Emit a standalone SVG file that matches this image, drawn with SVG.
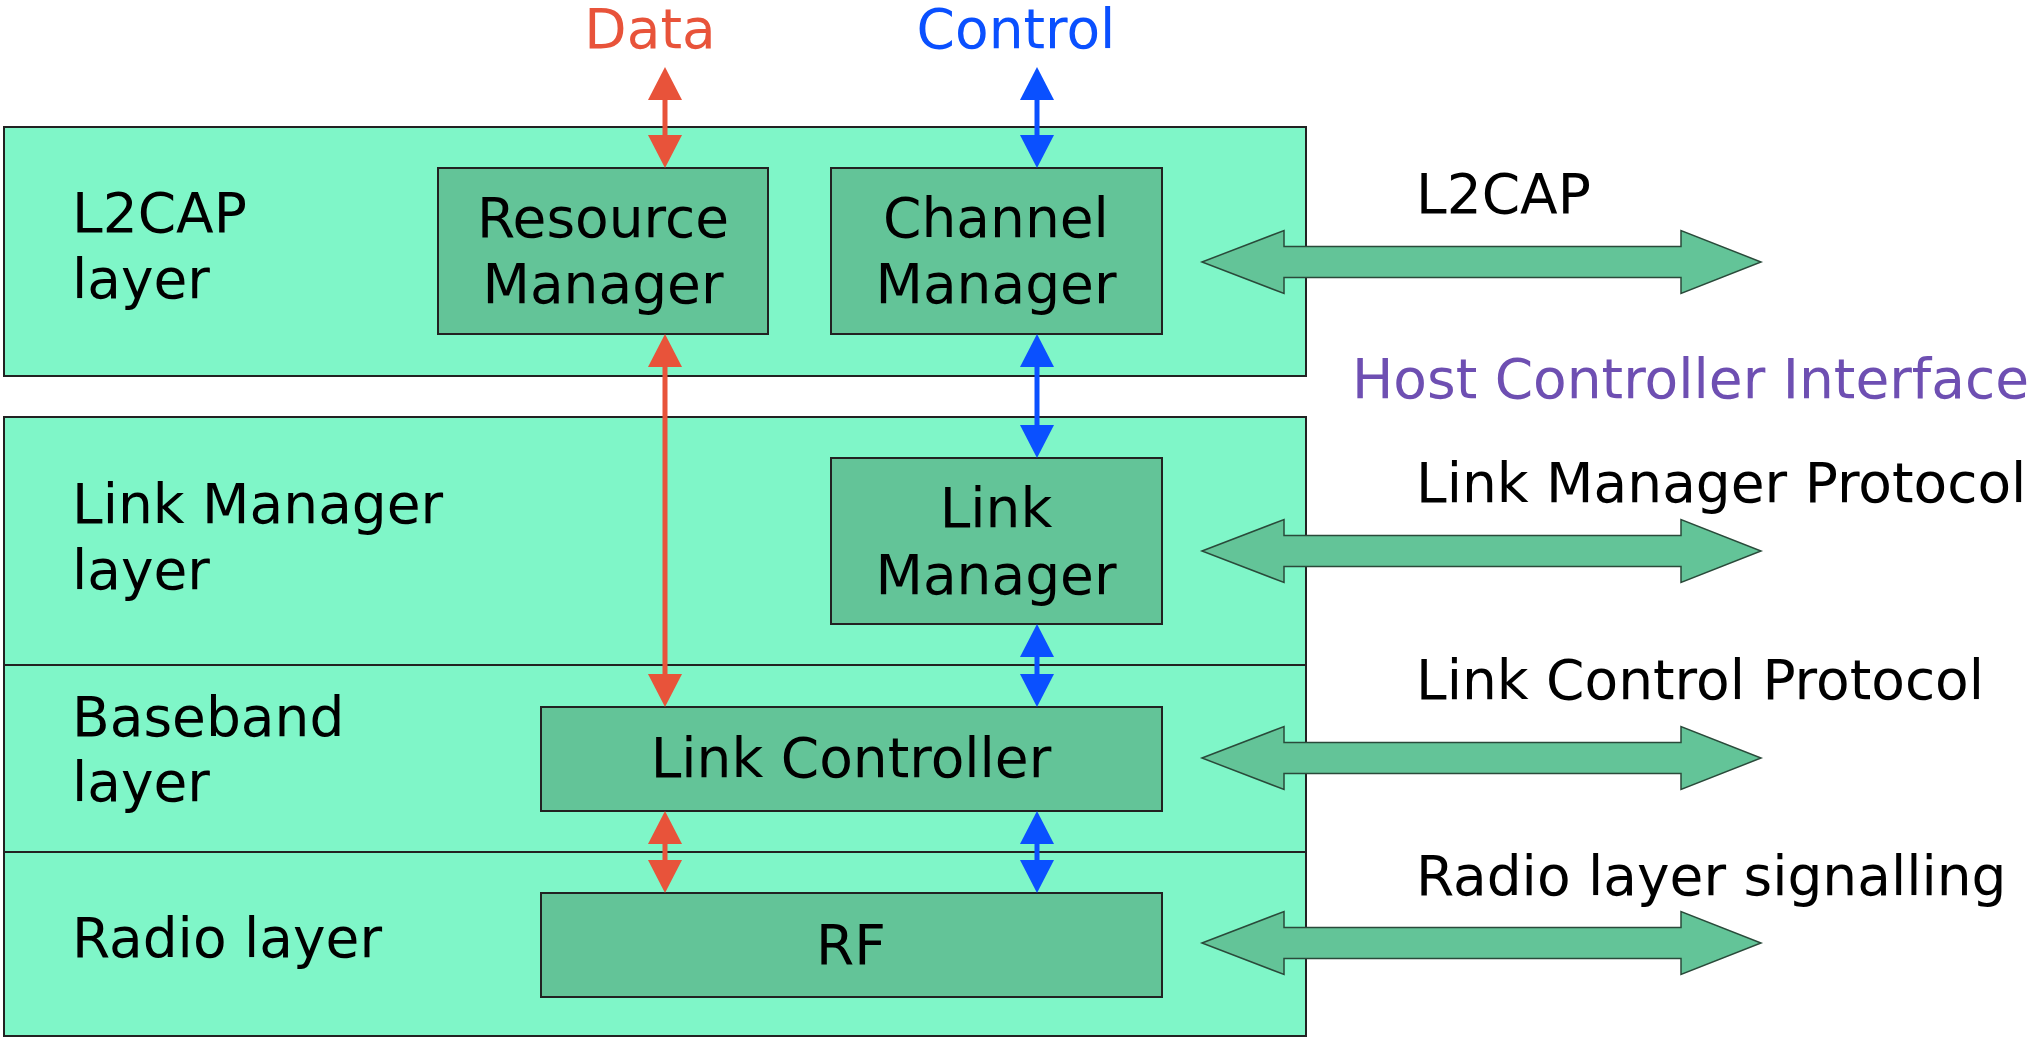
<svg xmlns="http://www.w3.org/2000/svg" width="2039" height="1039" viewBox="0 0 2039 1039">
<style>
.layer{fill:#7FF6C8;stroke:#222;stroke-width:2}
.box{fill:#63C498;stroke:#222;stroke-width:2}
.big{fill:#63C498;stroke:#2a4a3a;stroke-width:1.5}
text{font-family:"DejaVu Sans","Verdana",sans-serif;font-size:55px;fill:#000}
.c{text-anchor:middle}
.red{stroke:#E8533A;stroke-width:5;fill:none}
.blue{stroke:#0A50FF;stroke-width:5;fill:none}
</style>
<defs>
<marker id="hr" viewBox="0 0 33 34" refX="0" refY="17" markerWidth="33" markerHeight="34" markerUnits="userSpaceOnUse" orient="auto-start-reverse"><path d="M0,0 L33,17 L0,34 z" fill="#E8533A"/></marker>
<marker id="hb" viewBox="0 0 33 34" refX="0" refY="17" markerWidth="33" markerHeight="34" markerUnits="userSpaceOnUse" orient="auto-start-reverse"><path d="M0,0 L33,17 L0,34 z" fill="#0A50FF"/></marker>
<path id="dbl" d="M1202,0 L1284,-31.5 L1284,-15.5 L1681,-15.5 L1681,-31.5 L1761,0 L1681,31.5 L1681,15.5 L1284,15.5 L1284,31.5 z"/>
</defs>

<g id="l2cap-layer">
<rect class="layer" x="4" y="127" width="1302" height="249"/>
<text x="72" y="232">L2CAP</text>
<text x="72" y="298">layer</text>
</g>
<g id="lm-layer">
<rect class="layer" x="4" y="417" width="1302" height="248"/>
<text x="72" y="523">Link Manager</text>
<text x="72" y="589">layer</text>
</g>
<g id="baseband-layer">
<rect class="layer" x="4" y="665" width="1302" height="187"/>
<text x="72" y="736">Baseband</text>
<text x="72" y="801">layer</text>
</g>
<g id="radio-layer">
<rect class="layer" x="4" y="852" width="1302" height="184"/>
<text x="72" y="957">Radio layer</text>
</g>

<g id="resource-manager">
<rect class="box" x="438" y="168" width="330" height="166"/>
<text class="c" x="603" y="237">Resource</text>
<text class="c" x="603" y="303">Manager</text>
</g>
<g id="channel-manager">
<rect class="box" x="831" y="168" width="331" height="166"/>
<text class="c" x="996" y="237">Channel</text>
<text class="c" x="996" y="303">Manager</text>
</g>
<g id="link-manager">
<rect class="box" x="831" y="458" width="331" height="166"/>
<text class="c" x="996" y="527">Link</text>
<text class="c" x="996" y="594">Manager</text>
</g>
<g id="link-controller">
<rect class="box" x="541" y="707" width="621" height="104"/>
<text class="c" x="851" y="777">Link Controller</text>
</g>
<g id="rf">
<rect class="box" x="541" y="893" width="621" height="104"/>
<text class="c" x="851" y="964">RF</text>
</g>

<g id="labels">
<text class="c" x="650" y="48" style="fill:#E8533A">Data</text>
<text class="c" x="1016" y="48" style="fill:#0A50FF">Control</text>
<text x="1416" y="213">L2CAP</text>
<text x="1352" y="398" style="fill:#6E4FB2">Host Controller Interface</text>
<text x="1416" y="502">Link Manager Protocol</text>
<text x="1416" y="699">Link Control Protocol</text>
<text x="1416" y="895">Radio layer signalling</text>
</g>

<g id="connectors">
<line class="red" x1="665" y1="100" x2="665" y2="135" marker-start="url(#hr)" marker-end="url(#hr)"/>
<line class="blue" x1="1037" y1="100" x2="1037" y2="135" marker-start="url(#hb)" marker-end="url(#hb)"/>
<line class="red" x1="665" y1="367" x2="665" y2="674" marker-start="url(#hr)" marker-end="url(#hr)"/>
<line class="blue" x1="1037" y1="367" x2="1037" y2="425" marker-start="url(#hb)" marker-end="url(#hb)"/>
<line class="blue" x1="1037" y1="657" x2="1037" y2="674" marker-start="url(#hb)" marker-end="url(#hb)"/>
<line class="red" x1="665" y1="844" x2="665" y2="860" marker-start="url(#hr)" marker-end="url(#hr)"/>
<line class="blue" x1="1037" y1="844" x2="1037" y2="860" marker-start="url(#hb)" marker-end="url(#hb)"/>
<use href="#dbl" class="big" transform="translate(0,262)"/>
<use href="#dbl" class="big" transform="translate(0,551)"/>
<use href="#dbl" class="big" transform="translate(0,758)"/>
<use href="#dbl" class="big" transform="translate(0,943)"/>
</g>
</svg>
